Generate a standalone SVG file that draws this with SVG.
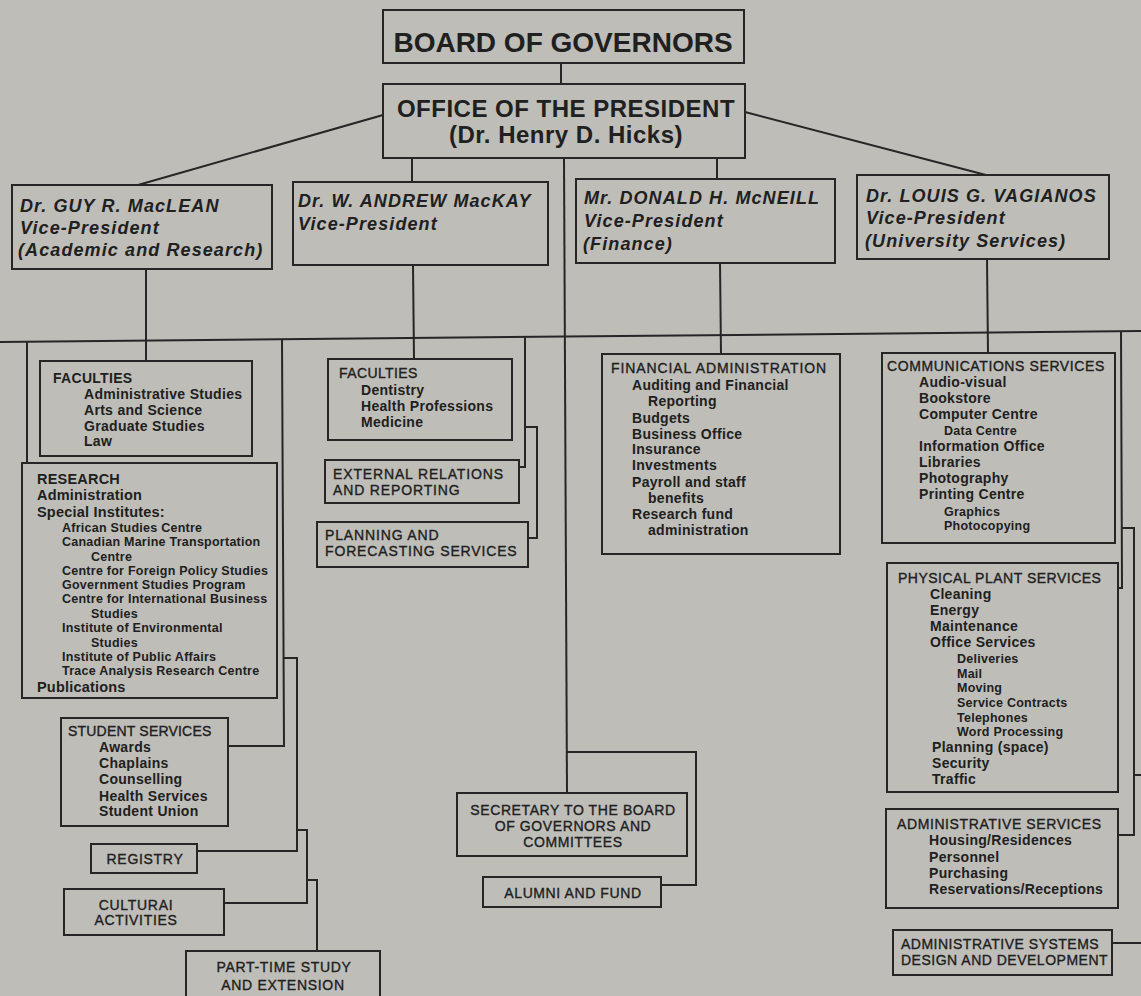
<svg xmlns="http://www.w3.org/2000/svg" width="1141" height="996" viewBox="0 0 1141 996">
<style>
.bg{fill:#bebdb8}
.box{fill:none;stroke:#262626;stroke-width:2}
.ln{fill:none;stroke:#262626;stroke-width:2}
text{font-family:"Liberation Sans",Arial,sans-serif;fill:#202020}
.big{font-size:28px;font-weight:bold}
.off{font-size:24px;font-weight:bold;letter-spacing:0.5px}
.vp{font-size:18px;font-weight:bold;font-style:italic;letter-spacing:1.1px}
.hd{font-size:14px;letter-spacing:0.7px;stroke:#202020;stroke-width:0.35px}
.it{font-size:14px;font-weight:bold;letter-spacing:0.3px}
.it2{font-size:14.5px;font-weight:bold;letter-spacing:0.2px}
.sub{font-size:12.5px;font-weight:bold;letter-spacing:0.25px}
.c{text-anchor:middle}
</style>
<rect class="bg" x="0" y="0" width="1141" height="996"/>

<g id="connectors">
<line class="ln" x1="561" y1="63" x2="561" y2="84"/>
<line class="ln" x1="383" y1="115" x2="138" y2="185"/>
<line class="ln" x1="412" y1="158" x2="412" y2="182"/>
<line class="ln" x1="717" y1="158" x2="717" y2="179"/>
<line class="ln" x1="745" y1="112" x2="986" y2="175"/>
<line class="ln" x1="564" y1="158" x2="567" y2="793"/>
<line class="ln" x1="0" y1="342" x2="1141" y2="331"/>
<line class="ln" x1="146" y1="269" x2="146" y2="361"/>
<line class="ln" x1="413" y1="265" x2="414" y2="359"/>
<line class="ln" x1="720" y1="263" x2="721" y2="354"/>
<line class="ln" x1="987" y1="259" x2="988" y2="353"/>
<line class="ln" x1="27" y1="342" x2="27" y2="463"/>
<polyline class="ln" points="282,339 284,746 228,746"/>
<polyline class="ln" points="284,658 297,658 297,851 197,851"/>
<polyline class="ln" points="297,830 307,830 307,903 224,903"/>
<polyline class="ln" points="307,880 317,880 317,951"/>
<polyline class="ln" points="525,337 525,467 519,467"/>
<polyline class="ln" points="525,427 537,427 537,538 528,538"/>
<polyline class="ln" points="566,752 696,752 696,885 661,885"/>
<polyline class="ln" points="1121,331 1122,588 1118,588"/>
<polyline class="ln" points="1122,528 1134,528 1134,835 1118,835"/>
<line class="ln" x1="1134" y1="775" x2="1141" y2="775"/>
<line class="ln" x1="1112" y1="943" x2="1141" y2="943"/>
</g>

<g id="board">
<rect class="box" x="383" y="10" width="361" height="53"/>
<text class="big c" x="563" y="52">BOARD OF GOVERNORS</text>
</g>

<g id="president">
<rect class="box" x="383" y="84" width="362" height="74"/>
<text class="off c" x="566" y="117">OFFICE OF THE PRESIDENT</text>
<text class="off c" x="566" y="143">(Dr. Henry D. Hicks)</text>
</g>

<g id="vp-maclean">
<rect class="box" x="12" y="185" width="260" height="84"/>
<text class="vp" x="20" y="212">Dr. GUY R. MacLEAN</text>
<text class="vp" x="20" y="234">Vice-President</text>
<text class="vp" x="18" y="256">(Academic and Research)</text>
</g>

<g id="vp-mackay">
<rect class="box" x="293" y="182" width="255" height="83"/>
<text class="vp" x="298" y="207">Dr. W. ANDREW MacKAY</text>
<text class="vp" x="298" y="230">Vice-President</text>
</g>

<g id="vp-mcneill">
<rect class="box" x="576" y="179" width="259" height="84"/>
<text class="vp" x="584" y="204">Mr. DONALD H. McNEILL</text>
<text class="vp" x="584" y="227">Vice-President</text>
<text class="vp" x="583" y="250">(Finance)</text>
</g>

<g id="vp-vagianos">
<rect class="box" x="857" y="175" width="252" height="84"/>
<text class="vp" x="866" y="202">Dr. LOUIS G. VAGIANOS</text>
<text class="vp" x="866" y="224">Vice-President</text>
<text class="vp" x="865" y="247">(University Services)</text>
</g>

<g id="faculties-academic">
<rect class="box" x="40" y="361" width="212" height="95"/>
<text class="it" x="53" y="383">FACULTIES</text>
<text class="it" x="84" y="399">Administrative Studies</text>
<text class="it" x="84" y="415">Arts and Science</text>
<text class="it" x="84" y="431">Graduate Studies</text>
<text class="it" x="84" y="446">Law</text>
</g>

<g id="research">
<rect class="box" x="22" y="463" width="255" height="235"/>
<text class="it2" x="37" y="484">RESEARCH</text>
<text class="it2" x="37" y="500">Administration</text>
<text class="it2" x="37" y="517">Special Institutes:</text>
<text class="sub" x="62" y="532">African Studies Centre</text>
<text class="sub" x="62" y="546">Canadian Marine Transportation</text>
<text class="sub" x="91" y="561">Centre</text>
<text class="sub" x="62" y="575">Centre for Foreign Policy Studies</text>
<text class="sub" x="62" y="589">Government Studies Program</text>
<text class="sub" x="62" y="603">Centre for International Business</text>
<text class="sub" x="91" y="618">Studies</text>
<text class="sub" x="62" y="632">Institute of Environmental</text>
<text class="sub" x="91" y="647">Studies</text>
<text class="sub" x="62" y="661">Institute of Public Affairs</text>
<text class="sub" x="62" y="675">Trace Analysis Research Centre</text>
<text class="it2" x="37" y="692">Publications</text>
</g>

<g id="student-services">
<rect class="box" x="61" y="718" width="167" height="108"/>
<text class="hd" x="68" y="736" style="letter-spacing:0.2px">STUDENT SERVICES</text>
<text class="it" x="99" y="752">Awards</text>
<text class="it" x="99" y="768">Chaplains</text>
<text class="it" x="99" y="784">Counselling</text>
<text class="it" x="99" y="801">Health Services</text>
<text class="it" x="99" y="816">Student Union</text>
</g>

<g id="registry">
<rect class="box" x="91" y="844" width="106" height="29"/>
<text class="hd c" x="145" y="864">REGISTRY</text>
</g>

<g id="cultural">
<rect class="box" x="64" y="889" width="160" height="46"/>
<text class="hd c" x="136" y="910">CULTURAI</text>
<text class="hd c" x="136" y="925">ACTIVITIES</text>
</g>

<g id="part-time">
<rect class="box" x="186" y="951" width="194" height="60"/>
<text class="hd c" x="284" y="972">PART-TIME STUDY</text>
<text class="hd c" x="283" y="990">AND EXTENSION</text>
</g>

<g id="faculties-health">
<rect class="box" x="328" y="359" width="184" height="81"/>
<text class="hd" x="339" y="378" style="letter-spacing:0.4px">FACULTIES</text>
<text class="it" x="361" y="395">Dentistry</text>
<text class="it" x="361" y="411">Health Professions</text>
<text class="it" x="361" y="427">Medicine</text>
</g>

<g id="external-relations">
<rect class="box" x="325" y="460" width="194" height="43"/>
<text class="hd" x="333" y="479" style="letter-spacing:0.85px">EXTERNAL RELATIONS</text>
<text class="hd" x="333" y="495" style="letter-spacing:0.85px">AND REPORTING</text>
</g>

<g id="planning">
<rect class="box" x="317" y="522" width="211" height="45"/>
<text class="hd" x="325" y="540" style="letter-spacing:0.85px">PLANNING AND</text>
<text class="hd" x="325" y="556" style="letter-spacing:0.85px">FORECASTING SERVICES</text>
</g>

<g id="financial">
<rect class="box" x="602" y="354" width="238" height="200"/>
<text class="hd" x="611" y="373" style="letter-spacing:0.9px">FINANCIAL ADMINISTRATION</text>
<text class="it" x="632" y="390">Auditing and Financial</text>
<text class="it" x="648" y="406">Reporting</text>
<text class="it" x="632" y="423">Budgets</text>
<text class="it" x="632" y="439">Business Office</text>
<text class="it" x="632" y="454">Insurance</text>
<text class="it" x="632" y="470">Investments</text>
<text class="it" x="632" y="487">Payroll and staff</text>
<text class="it" x="648" y="503">benefits</text>
<text class="it" x="632" y="519">Research fund</text>
<text class="it" x="648" y="535">administration</text>
</g>

<g id="secretary">
<rect class="box" x="457" y="793" width="230" height="63"/>
<text class="hd c" x="573" y="815" style="letter-spacing:0.6px">SECRETARY TO THE BOARD</text>
<text class="hd c" x="573" y="831" style="letter-spacing:0.6px">OF GOVERNORS AND</text>
<text class="hd c" x="573" y="847" style="letter-spacing:0.6px">COMMITTEES</text>
</g>

<g id="alumni">
<rect class="box" x="483" y="877" width="178" height="30"/>
<text class="hd c" x="573" y="898" style="letter-spacing:0.6px">ALUMNI AND FUND</text>
</g>

<g id="communications">
<rect class="box" x="882" y="353" width="233" height="190"/>
<text class="hd" x="887" y="371" style="letter-spacing:0.6px">COMMUNICATIONS SERVICES</text>
<text class="it" x="919" y="387">Audio-visual</text>
<text class="it" x="919" y="403">Bookstore</text>
<text class="it" x="919" y="419">Computer Centre</text>
<text class="sub" x="944" y="435">Data Centre</text>
<text class="it" x="919" y="451">Information Office</text>
<text class="it" x="919" y="467">Libraries</text>
<text class="it" x="919" y="483">Photography</text>
<text class="it" x="919" y="499">Printing Centre</text>
<text class="sub" x="944" y="516">Graphics</text>
<text class="sub" x="944" y="530">Photocopying</text>
</g>

<g id="physical-plant">
<rect class="box" x="887" y="563" width="231" height="229"/>
<text class="hd" x="898" y="583" style="letter-spacing:0.5px">PHYSICAL PLANT SERVICES</text>
<text class="it" x="930" y="599">Cleaning</text>
<text class="it" x="930" y="615">Energy</text>
<text class="it" x="930" y="631">Maintenance</text>
<text class="it" x="930" y="647">Office Services</text>
<text class="sub" x="957" y="663">Deliveries</text>
<text class="sub" x="957" y="678">Mail</text>
<text class="sub" x="957" y="692">Moving</text>
<text class="sub" x="957" y="707">Service Contracts</text>
<text class="sub" x="957" y="722">Telephones</text>
<text class="sub" x="957" y="736">Word Processing</text>
<text class="it" x="932" y="752">Planning (space)</text>
<text class="it" x="932" y="768">Security</text>
<text class="it" x="932" y="784">Traffic</text>
</g>

<g id="administrative-services">
<rect class="box" x="886" y="809" width="232" height="99"/>
<text class="hd" x="897" y="829" style="letter-spacing:0.6px">ADMINISTRATIVE SERVICES</text>
<text class="it" x="929" y="845">Housing/Residences</text>
<text class="it" x="929" y="862">Personnel</text>
<text class="it" x="929" y="878">Purchasing</text>
<text class="it" x="929" y="894">Reservations/Receptions</text>
</g>

<g id="administrative-systems">
<rect class="box" x="893" y="930" width="219" height="45"/>
<text class="hd" x="901" y="949" style="letter-spacing:0.5px">ADMINISTRATIVE SYSTEMS</text>
<text class="hd" x="901" y="965" style="letter-spacing:0.5px">DESIGN AND DEVELOPMENT</text>
</g>
</svg>
